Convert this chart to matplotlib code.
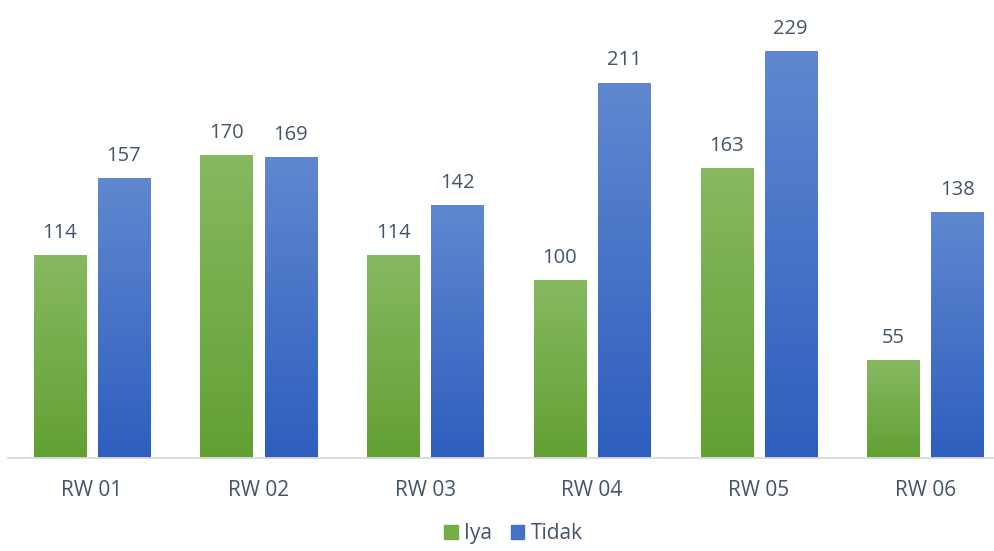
import matplotlib
matplotlib.use("Agg")
import matplotlib.pyplot as plt
import numpy as np
from matplotlib.colors import LinearSegmentedColormap
from matplotlib.patches import Patch

categories = ["RW 01", "RW 02", "RW 03", "RW 04", "RW 05", "RW 06"]
iya = [114, 170, 114, 100, 163, 55]
tidak = [157, 169, 142, 211, 229, 138]
series_names = ["Iya", "Tidak"]

green_top, green_bot = "#86b960", "#62a033"
blue_top, blue_bot = "#6088d0", "#2e5ebe"
text_color = "#44546a"

plt.rcParams['font.family'] = ['Open Sans', 'DejaVu Sans']

fig = plt.figure(figsize=(9.95, 5.51), dpi=100)
ax = fig.add_axes([0.0085, 0.1688, 0.9915, 0.8312])

x = np.arange(len(categories))
w = 0.312
off = (w + 0.072) / 2

b1 = ax.bar(x - off, iya, w, color=green_bot, zorder=2)
b2 = ax.bar(x + off, tidak, w, color=blue_bot, zorder=2)

grad = np.linspace(0, 1, 256).reshape(-1, 1)
for bars, top, bot in [(b1, green_top, green_bot), (b2, blue_top, blue_bot)]:
    cmap = LinearSegmentedColormap.from_list("g", [bot, top])
    for r in bars:
        x0, y0 = r.get_x(), r.get_y()
        ww, hh = r.get_width(), r.get_height()
        ax.imshow(grad, cmap=cmap, origin="lower", aspect="auto",
                  extent=[x0, x0 + ww, y0, y0 + hh], zorder=3, interpolation="bicubic")
        ax.annotate(f"{int(hh)}", (x0 + ww / 2, hh), xytext=(0, 9),
                    textcoords="offset points", ha="center", va="bottom",
                    fontsize=14.5, color=text_color)

ax.set_xlim(-0.5, 5.418)
ax.set_ylim(0, 257.7)
ax.set_xticks(x)
ax.set_xticklabels(categories, fontsize=15, color=text_color)
ax.tick_params(axis="x", length=0, pad=16)
ax.set_yticks([])
for s in ["top", "right", "left"]:
    ax.spines[s].set_visible(False)
ax.spines["bottom"].set_color("#d9d9d9")
ax.spines["bottom"].set_linewidth(1.3)
ax.spines["bottom"].set_zorder(4)

handles = [Patch(color="#72ad47"), Patch(color="#4472c4")]
fig.legend(handles, series_names, loc="lower center", bbox_to_anchor=(0.516, -0.022),
           ncol=2, frameon=False, fontsize=15, handlelength=0.65, handleheight=0.65,
           handletextpad=0.3, columnspacing=0.9, labelcolor=text_color)

fig.savefig("out.png", dpi=100)
